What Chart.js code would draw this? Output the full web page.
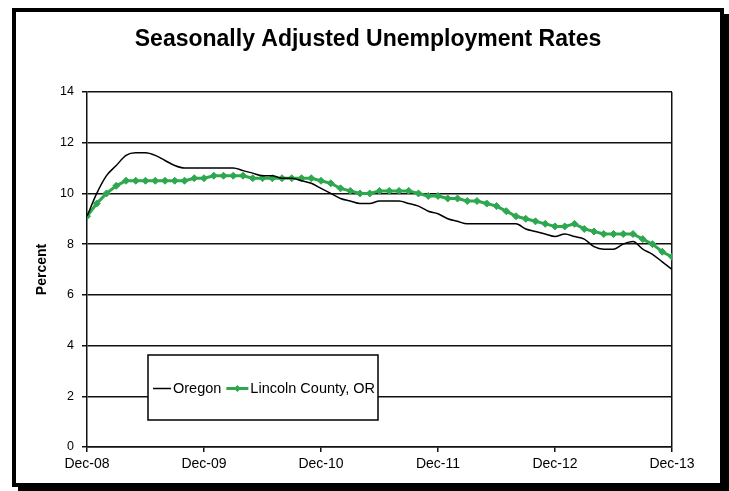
<!DOCTYPE html>
<html>
<head>
<meta charset="utf-8">
<script src="https://cdn.jsdelivr.net/npm/chart.js@4/dist/chart.umd.min.js"></script>
<style>
  html, body { margin: 0; padding: 0; background: #fff; }
  #wrap { position: relative; width: 729px; height: 491px; overflow: hidden; }
  #c { position: absolute; left: 0; top: 0; }
  #frame {
    position: absolute; left: 12px; top: 8px; width: 712px; height: 479px;
    box-sizing: border-box; border: 4px solid #000; box-shadow: 6px 6px 0 #000;
    pointer-events: none;
  }
</style>
</head>
<body>
<div id="wrap">
  <canvas id="c" width="729" height="491"></canvas>
  <div id="frame"></div>
</div>
<script>
// Monthly seasonally adjusted unemployment rates, Dec 2008 through Dec 2013 (61 months)
const oregon = [
  9.1, 10.0, 10.7, 11.1, 11.5, 11.6, 11.6, 11.5, 11.3, 11.1, 11.0,
  11.0, 11.0, 11.0, 11.0, 11.0, 10.9, 10.8, 10.7, 10.7, 10.6, 10.6, 10.5, 10.4,
  10.2, 10.0, 9.8, 9.7, 9.6, 9.6, 9.7, 9.7, 9.7, 9.6, 9.5, 9.3, 9.2, 9.0, 8.9, 8.8, 8.8,
  8.8, 8.8, 8.8, 8.8, 8.6, 8.5, 8.4, 8.3, 8.4, 8.3, 8.2, 7.9, 7.8, 7.8, 8.0, 8.1, 7.8, 7.6, 7.3, 7.0
];
const lincolnCounty = [
  9.1, 9.6, 10.0, 10.3, 10.5, 10.5, 10.5, 10.5, 10.5, 10.5, 10.5,
  10.6, 10.6, 10.7, 10.7, 10.7, 10.7, 10.6, 10.6, 10.6, 10.6, 10.6, 10.6, 10.6,
  10.5, 10.4, 10.2, 10.1, 10.0, 10.0, 10.1, 10.1, 10.1, 10.1, 10.0, 9.9, 9.9, 9.8, 9.8, 9.7, 9.7,
  9.6, 9.5, 9.3, 9.1, 9.0, 8.9, 8.8, 8.7, 8.7, 8.8, 8.6, 8.5, 8.4, 8.4, 8.4, 8.4, 8.2, 8.0, 7.7, 7.5
];
// x-axis labels, one every 12 months
const tickLabels = ['Dec-08', 'Dec-09', 'Dec-10', 'Dec-11', 'Dec-12', 'Dec-13'];
const seriesNames = ['Oregon', 'Lincoln County, OR'];
const chartTitle = 'Seasonally Adjusted Unemployment Rates';

const FONT = "'Liberation Sans', Arial, Helvetica, sans-serif";
const GREEN = '#2ea84f';

const toPoints = arr => arr.map((v, i) => ({ x: i, y: v }));

// Title centred over the whole framed panel rather than the plot
const panelTitle = {
  id: 'panelTitle',
  afterDraw(chart, args, opts) {
    const ctx = chart.ctx;
    ctx.save();
    ctx.font = 'bold 23px ' + FONT;
    ctx.fillStyle = '#000';
    ctx.textAlign = 'center';
    ctx.textBaseline = 'middle';
    ctx.fillText(opts.text, opts.x, opts.y);
    ctx.restore();
  }
};

// Boxed legend sitting inside the plot area
const insideLegend = {
  id: 'insideLegend',
  afterDatasetsDraw(chart, args, opts) {
    const ctx = chart.ctx;
    const { left, top, width, height } = opts.box;
    ctx.save();
    ctx.fillStyle = '#fff';
    ctx.fillRect(left, top, width, height);
    ctx.strokeStyle = '#000';
    ctx.lineWidth = 1.5;
    ctx.strokeRect(left, top, width, height);
    ctx.font = '14.5px ' + FONT;
    ctx.textBaseline = 'middle';
    ctx.fillStyle = '#000';
    const cy = top + height / 2 + 1;
    let x = left + 5;
    chart.data.datasets.forEach((ds, i) => {
      const sampleLen = i === 0 ? 18 : 22;
      ctx.strokeStyle = ds.borderColor;
      ctx.lineWidth = i === 0 ? 1.5 : 3;
      ctx.beginPath();
      ctx.moveTo(x, cy);
      ctx.lineTo(x + sampleLen, cy);
      ctx.stroke();
      if (ds.pointRadius > 0) {
        const r = 3.5, mx = x + sampleLen / 2;
        ctx.fillStyle = ds.pointBackgroundColor;
        ctx.beginPath();
        ctx.moveTo(mx, cy - r); ctx.lineTo(mx + r, cy);
        ctx.lineTo(mx, cy + r); ctx.lineTo(mx - r, cy);
        ctx.closePath(); ctx.fill();
      }
      x += sampleLen + 2;
      ctx.fillStyle = '#000';
      ctx.fillText(ds.label, x, cy);
      x += ctx.measureText(ds.label).width + 5;
    });
    ctx.restore();
  }
};

new Chart(document.getElementById('c'), {
  type: 'line',
  data: {
    datasets: [
      {
        label: seriesNames[0],
        data: toPoints(oregon),
        borderColor: '#000',
        borderWidth: 1.5,
        pointRadius: 0,
        tension: 0.4,
        cubicInterpolationMode: 'monotone'
      },
      {
        label: seriesNames[1],
        data: toPoints(lincolnCounty),
        borderColor: GREEN,
        backgroundColor: GREEN,
        pointBackgroundColor: GREEN,
        pointBorderColor: GREEN,
        borderWidth: 3,
        pointStyle: 'rectRot',
        pointRadius: 3.5,
        pointBorderWidth: 1,
        tension: 0
      }
    ]
  },
  options: {
    responsive: false,
    animation: false,
    layout: { padding: { left: 22, right: 57, top: 92, bottom: 0 } },
    plugins: {
      legend: { display: false },
      tooltip: { enabled: false },
      title: { display: false },
      panelTitle: { text: chartTitle, x: 368, y: 40 },
      insideLegend: { box: { left: 148, top: 355, width: 230, height: 65 } }
    },
    scales: {
      x: {
        type: 'linear',
        min: 0,
        max: 60,
        afterFit(scale) { scale.height = 44; },
        ticks: {
          stepSize: 12,
          autoSkip: false,
          maxRotation: 0,
          color: '#000',
          padding: 4,
          font: { family: FONT, size: 14 },
          callback: v => tickLabels[v / 12]
        },
        grid: {
          drawOnChartArea: true,
          color: c => (c.tick && c.tick.value === 60 ? '#111' : 'rgba(0,0,0,0)'),
          tickColor: '#111',
          tickLength: 5,
          lineWidth: 1.5
        },
        border: { display: true, color: '#111', width: 1.5 }
      },
      y: {
        min: 0,
        max: 14,
        afterFit(scale) { scale.width = 65; },
        ticks: {
          stepSize: 2,
          color: '#000',
          padding: 8,
          font: { family: FONT, size: 12.5 }
        },
        grid: { color: '#111', tickColor: '#111', tickLength: 5, lineWidth: 1.5 },
        border: { display: true, color: '#111', width: 1.5 },
        title: {
          display: true,
          text: 'Percent',
          color: '#000',
          font: { family: FONT, size: 14, weight: 'bold' },
          padding: { top: 12, bottom: 0 }
        }
      }
    }
  },
  plugins: [panelTitle, insideLegend]
});
</script>
</body>
</html>
